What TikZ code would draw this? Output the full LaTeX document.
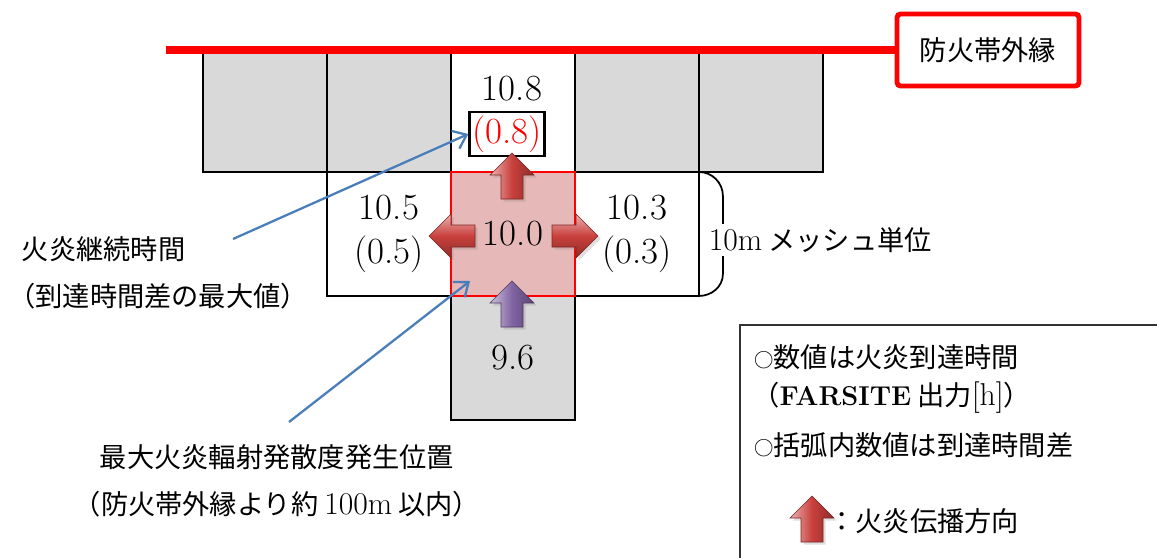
\documentclass[tikz,border=0pt]{standalone}
\usepackage{fontspec}
\newfontfamily\cjk{Noto Sans CJK JP}
\usepackage{tikz}
\usetikzlibrary{positioning,arrows.meta,shadows}
\definecolor{cellgray}{HTML}{D9D9D9}
\definecolor{cellpink}{HTML}{E6B8B7}
\definecolor{linkblue}{HTML}{4A7EBB}
\definecolor{arrred}{HTML}{C9403C}
\definecolor{arrpurple}{HTML}{8064A2}
\newcommand{\latn}[1]{{\rmfamily\fontsize{18}{27}\selectfont #1}}
\tikzset{
  cellg/.style={rectangle, draw=black, line width=1.3pt, fill=cellgray,
               minimum width=2.48cm, minimum height=2.48cm,
               inner sep=0pt, outer sep=0pt},
  cellw/.style={cellg, fill=white},
  cellc/.style={cellg, draw=red, line width=1pt, fill=cellpink},
  numtxt/.style={font=\fontsize{21}{25}\selectfont, align=center, inner sep=1pt},
  jptxt/.style={font=\fontsize{15.5}{27}\selectfont\cjk, inner sep=0pt},
  edgebox/.style={rectangle, rounded corners=2pt, draw=red, line width=2.8pt,
               fill=white, minimum width=3.64cm, minimum height=1.44cm,
               font=\fontsize{15.5}{18}\selectfont\cjk},
  edgeline/.style={draw=red, line width=4.5pt},
  larr/.style={-{Straight Barb[length=7pt, width=11pt]}, linkblue, line width=1.3pt},
  mbrace/.style={line width=1pt},
  legbox/.style={draw=black!80, line width=0.9pt},
  pics/blockarr/.style n args={2}{code={
    \path[top color=#1!40!white, bottom color=#1!70!black, middle color=#1,
          shading angle=#2, draw=#1!60!black, line width=0.3pt,
          drop shadow={opacity=0.25, shadow xshift=1.5pt, shadow yshift=-1.5pt}]
      (0,-23) -- (22,-1) -- (11,-1) -- (11,23) -- (-11,23) -- (-11,-1) -- (-22,-1) -- cycle;
  }},
}

\begin{document}
\begin{tikzpicture}[x=0.02cm, y=-0.02cm]
  \useasboundingbox (0,0) rectangle (1157,558);

  % top row of cells along the firebreak
  \node[cellg]                   (g1) at (265,110) {};
  \node[cellg, right=0pt of g1]  (g2) {};
  \node[cellw, right=0pt of g2]  (w1) {};
  \node[cellg, right=0pt of w1]  (g3) {};
  \node[cellg, right=0pt of g3]  (g4) {};

  % middle and bottom rows
  \node[cellw, below=0pt of g2]    (wl) {};
  \node[cellw, below=0pt of g3]    (wr) {};
  \node[cellg, below=2.48cm of w1] (gb) {};
  \node[cellc, below=0pt of w1]    (ctr) {};

  % firebreak edge
  \node[edgebox] (edge) at (988,50) {防火帯外縁};
  \coordinate (edgestart) at (166,50);
  \draw[edgeline] (edgestart) -- (edge.west);

  % arrival times
  \node[numtxt, draw, line width=1.3pt, text=red, minimum width=1.5cm,
        minimum height=0.88cm] (diff) at (507,134) {(0.8)};
  \node[numtxt, above=0.16cm of diff, xshift=0.1cm] (t108) {10.8};
  \node[numtxt] (t105) at (wl) {10.5\\(0.5)};
  \node[numtxt] (t103) at (wr) {10.3\\(0.3)};
  \node[numtxt] (t100) at (ctr) {10.0};
  \node[numtxt] (t96) at (gb) {9.6};

  % spread directions
  \pic at (512,176) {blockarr={arrred}{90}};
  \pic[rotate=90] at (452,236) {blockarr={arrred}{0}};
  \pic[rotate=-90] at (575,236) {blockarr={arrred}{0}};
  \pic at (512,304) {blockarr={arrpurple}{90}};

  % mesh size
  \draw[mbrace] (wr.north east) to[out=0, in=90] ++(24,24) -- ++(0,78)
    to[out=-90, in=0] (wr.south east);
  \node[jptxt, fill=white, inner sep=2pt, anchor=west] (mesh) at (705,240)
    {\latn{10m} メッシュ単位};

  % callouts
  \node[jptxt, align=left, anchor=west] (durlbl) at (8,273)
    {\hspace{0.5em}火炎継続時間\\（到達時間差の最大値）};
  \coordinate (durtail) at (233,239);
  \draw[larr] (durtail) -- (diff.west);

  \node[jptxt, align=center] (poslbl) at (277,481)
    {最大火炎輻射発散度発生位置\\（防火帯外縁より約 \latn{100m} 以内）};
  \coordinate (postail) at (289,422);
  \coordinate (poshead) at (470,281);
  \draw[larr] (postail) -- (poshead);

  % legend
  \draw[legbox] (740,325) rectangle (1175,575);
  \node[jptxt, anchor=west] (leg1) at (754,357)
    {{\fontsize{11}{11}\selectfont ○}数値は火炎到達時間};
  \node[jptxt, anchor=west] (leg2) at (752,398)
    {（{\rmfamily\bfseries FARSITE} 出力\latn{[h]}）};
  \node[jptxt, anchor=west] (leg3) at (754,445)
    {{\fontsize{11}{11}\selectfont ○}括弧内数値は到達時間差};
  \pic at (812,519) {blockarr={arrred}{90}};
  \node[jptxt, anchor=west] (leg4) at (828,521) {：火炎伝播方向};
\end{tikzpicture}
\end{document}
